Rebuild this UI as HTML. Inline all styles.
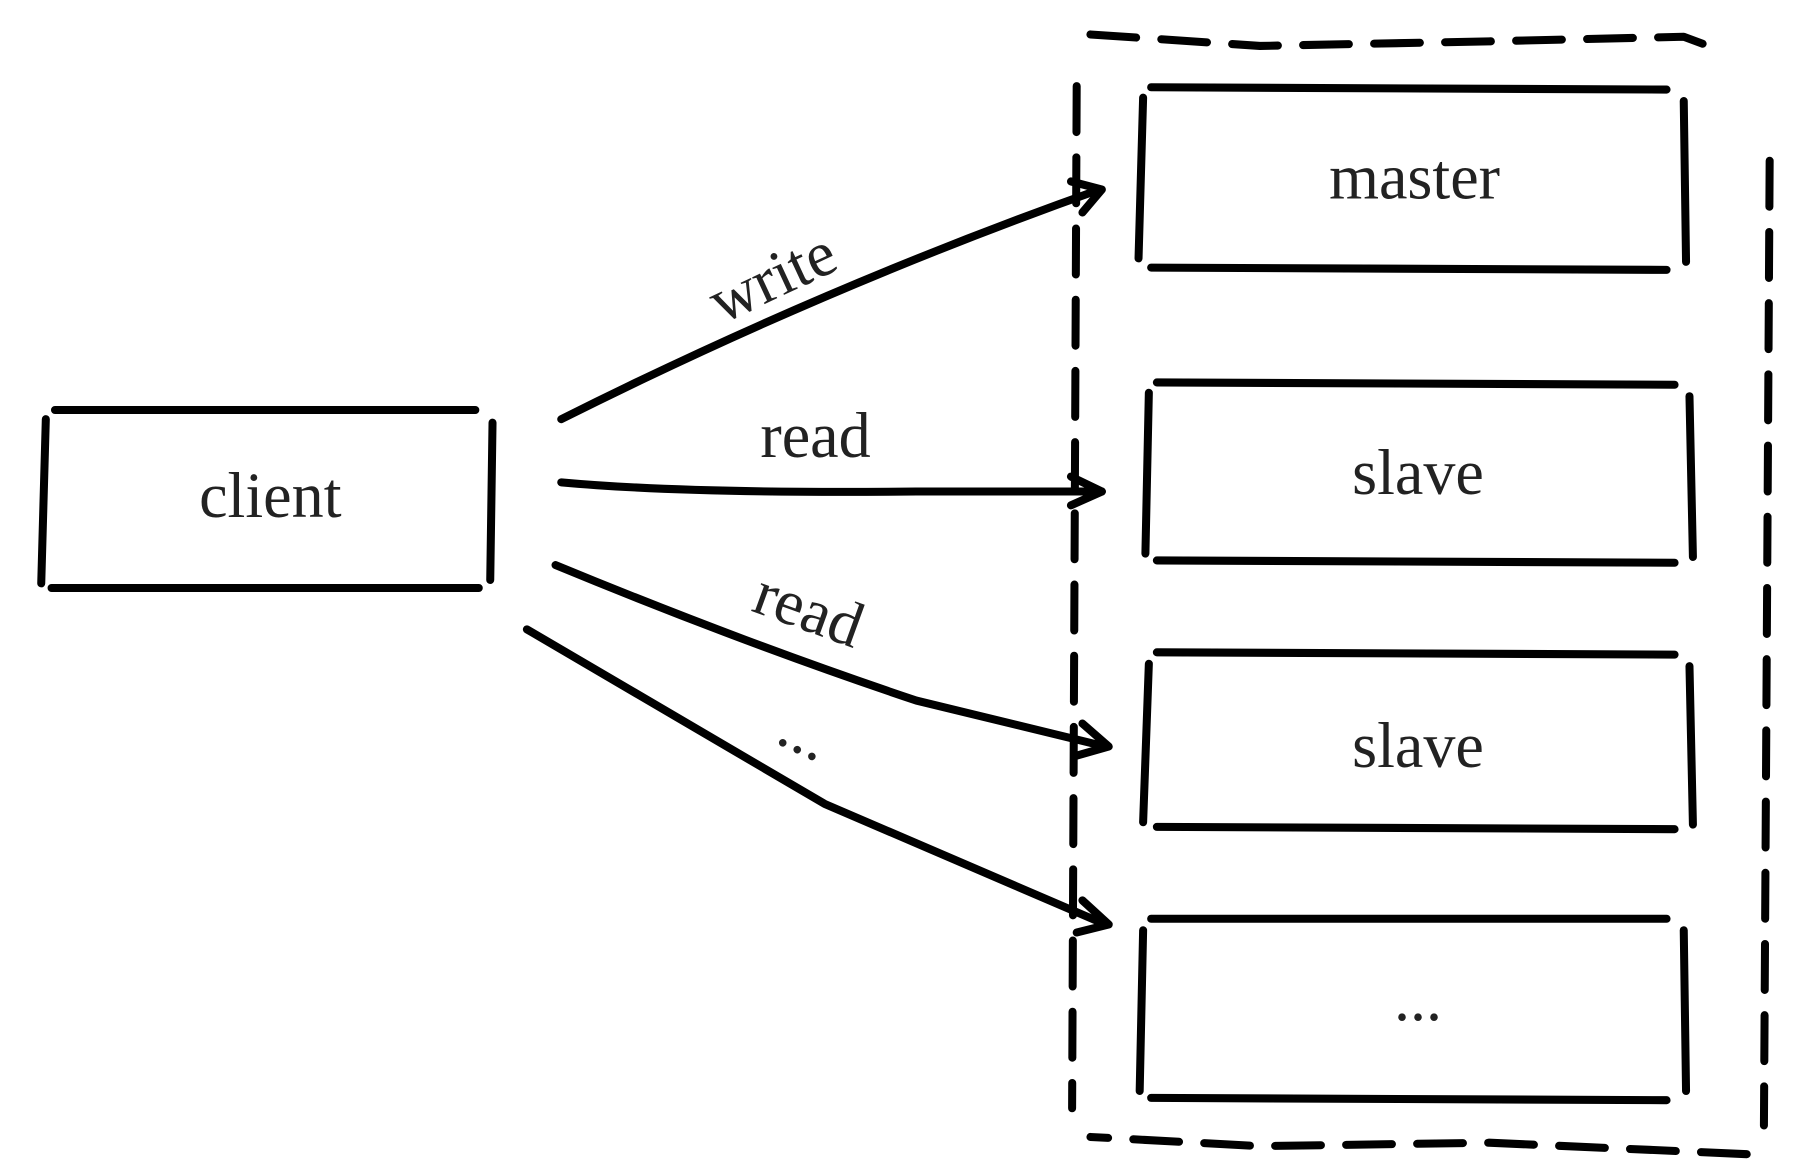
<!DOCTYPE html>
<html><head><style>html,body{margin:0;padding:0;background:#fff}svg{display:block}</style></head>
<body>
<svg width="1796" height="1176" viewBox="0 0 1568 1024" preserveAspectRatio="none" xmlns="http://www.w3.org/2000/svg">
<g fill="none" stroke="#000" stroke-width="7" stroke-linecap="round" stroke-linejoin="round">
<path d="M952 30 L1100 40 L1300 36 L1470 32 L1497 42" stroke-dasharray="40,22"/>
<path d="M1545 140 L1540 980" stroke-dasharray="40,22"/>
<path d="M1525 1005 L1300 995 L1100 998 L952 990" stroke-dasharray="40,22"/>
<path d="M940 75 L936 965" stroke-dasharray="40,22"/>
<!-- client -->
<path d="M48 357 L415 357 M45 512 L418 512 M40 365 L36 508 M430 368 L428 505"/>
<!-- master -->
<path d="M1005 76 L1455 78 M1005 233 L1455 235 M998 85 L994 225 M1470 88 L1472 228"/>
<!-- slave1 -->
<path d="M1010 333 L1462 335 M1010 488 L1462 490 M1003 342 L1000 482 M1475 345 L1478 485"/>
<!-- slave2 -->
<path d="M1010 568 L1462 570 M1010 720 L1462 722 M1003 578 L998 716 M1475 580 L1478 718"/>
<!-- box4 -->
<path d="M1005 800 L1455 800 M1005 956 L1455 958 M998 810 L995 950 M1470 810 L1472 950"/>
<!-- arrows -->
<path d="M490 365 Q720 250 960 165"/>
<path d="M935 158 L962 165 L945 185"/>
<path d="M490 420 Q600 430 800 428 L962 428"/>
<path d="M935 415 L962 428 L935 440"/>
<path d="M485 492 Q650 560 800 610 L965 650"/>
<path d="M945 630 L968 650 L940 658"/>
<path d="M460 548 Q600 630 720 700 L965 805"/>
<path d="M945 784 L968 805 L940 812"/>
</g>
<g font-family="'Liberation Serif',serif" font-size="56" fill="#222" text-anchor="middle">
<text x="236" y="450">client</text>
<text x="1235" y="173">master</text>
<text x="1238" y="430">slave</text>
<text x="1238" y="668">slave</text>
<text x="1238" y="888">...</text>
<text x="712" y="398">read</text>
<text transform="translate(682,258) rotate(-25)">write</text>
<text transform="translate(700,548) rotate(20)">read</text>
<text transform="translate(695,655) rotate(25)">...</text>
</g>
</svg>
</body></html>
